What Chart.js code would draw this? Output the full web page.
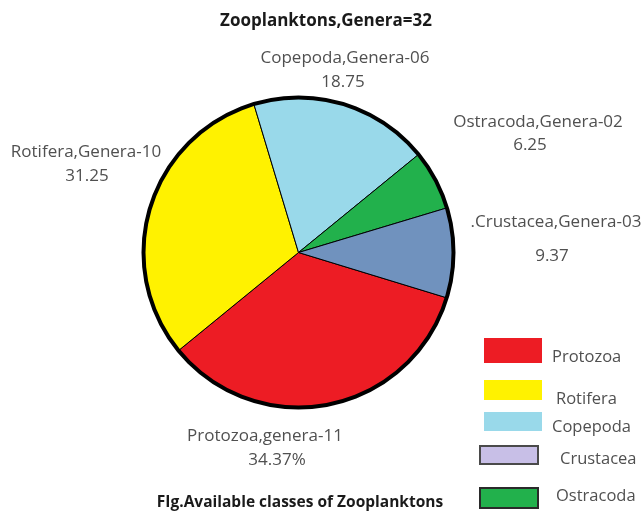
<!DOCTYPE html>
<html>
<head>
<meta charset="utf-8">
<script src="https://cdn.jsdelivr.net/npm/chart.js@4.4.1/dist/chart.umd.min.js"></script>
<style>
  html, body { margin: 0; padding: 0; background: #ffffff; }
  #wrap { position: relative; width: 641px; height: 516px; }
</style>
</head>
<body>
<div id="wrap"><canvas id="zooChart" width="641" height="516"></canvas></div>
<script>
// slices, clockwise in the order they appear on the pie
var categories = ['Protozoa', 'Rotifera', 'Copepoda', 'Ostracoda', 'Crustacea'];
var genera = [11, 10, 6, 2, 3];
var percentages = [34.37, 31.25, 18.75, 6.25, 9.37];
var sliceColors = ['#ed1c24', '#fff200', '#99d9ea', '#22b14c', '#7092be'];

// text written next to each slice
var sliceLabels = [
    ['Protozoa,genera-11', '34.37%'],
    ['Rotifera,Genera-10', '31.25'],
    ['Copepoda,Genera-06', '18.75'],
    ['Ostracoda,Genera-02', '6.25'],
    ['.Crustacea,Genera-03', '9.37']
];

// legend as it is drawn in the figure (own order and swatches)
var legendNames = ['Protozoa', 'Rotifera', 'Copepoda', 'Crustacea', 'Ostracoda'];
var legendColors = ['#ed1c24', '#fff200', '#99d9ea', '#c8bfe7', '#22b14c'];
var legendBorders = [null, null, null, '#4a4a4a', '#2a2a2a'];

var titleText = 'Zooplanktons,Genera=32';
var captionText = 'FIg.Available classes of Zooplanktons';

// where the slice texts sit: [x1, y1, x2, y2] (line centres)
var labelSpots = [
    [265, 436, 277, 460],
    [86, 152, 87, 176],
    [345, 58, 343, 82],
    [538, 122, 530, 145],
    [556, 222, 552, 256]
];

const textFont = '17px "Open Sans", "Liberation Sans", sans-serif';

const outerRing = {
    id: 'outerRing',
    afterDatasetsDraw(chart) {
        const arc = chart.getDatasetMeta(0).data[0];
        const ctx = chart.ctx;
        ctx.save();
        ctx.beginPath();
        ctx.arc(arc.x, arc.y, arc.outerRadius, 0, Math.PI * 2);
        ctx.lineWidth = 4;
        ctx.strokeStyle = '#000000';
        ctx.stroke();
        ctx.restore();
    }
};

const textLayer = {
    id: 'textLayer',
    afterDraw(chart) {
        const ctx = chart.ctx;
        ctx.save();
        ctx.textAlign = 'center';
        ctx.textBaseline = 'middle';

        ctx.fillStyle = '#1a1a1a';
        ctx.font = 'bold 17px "Open Sans", "Liberation Sans", sans-serif';
        ctx.fillText(titleText, 326, 21);
        ctx.font = 'bold 15.5px "Open Sans", "Liberation Sans", sans-serif';
        ctx.fillText(captionText, 300, 503);

        ctx.font = textFont;
        ctx.fillStyle = '#505050';
        sliceLabels.forEach(function (lines, i) {
            var spot = labelSpots[i];
            ctx.fillText(lines[0], spot[0], spot[1]);
            ctx.fillText(lines[1], spot[2], spot[3]);
        });

        // legend
        var boxX = [484, 484, 484, 480, 480];
        var boxY = [338, 380, 412, 446, 488];
        var boxH = [25, 20, 19, 18, 20];
        var textX = [552, 556, 552, 560, 556];
        var textY = [357, 399, 427, 459, 496];
        ctx.font = '16.5px "Open Sans", "Liberation Sans", sans-serif';
        legendNames.forEach(function (name, i) {
            ctx.fillStyle = legendColors[i];
            ctx.fillRect(boxX[i], boxY[i], 58, boxH[i]);
            if (legendBorders[i]) {
                ctx.strokeStyle = legendBorders[i];
                ctx.lineWidth = 2;
                ctx.strokeRect(boxX[i], boxY[i], 58, boxH[i]);
            }
            ctx.fillStyle = '#505050';
            ctx.textAlign = 'left';
            ctx.fillText(name, textX[i], textY[i]);
        });
        ctx.restore();
    }
};

const ctx = document.getElementById('zooChart');

new Chart(ctx, {
    type: 'pie',
    data: {
        labels: categories,
        datasets: [{
            data: percentages,
            backgroundColor: sliceColors,
            borderColor: '#000000',
            borderWidth: 1,
            genera: genera
        }]
    },
    options: {
        responsive: false,
        animation: false,
        rotation: 107,
        layout: {
            padding: { left: 143, right: 187, top: 97, bottom: 108 }
        },
        plugins: {
            legend: { display: false },
            tooltip: { enabled: false },
            title: { display: false }
        }
    },
    plugins: [outerRing, textLayer]
});
</script>
</body>
</html>
